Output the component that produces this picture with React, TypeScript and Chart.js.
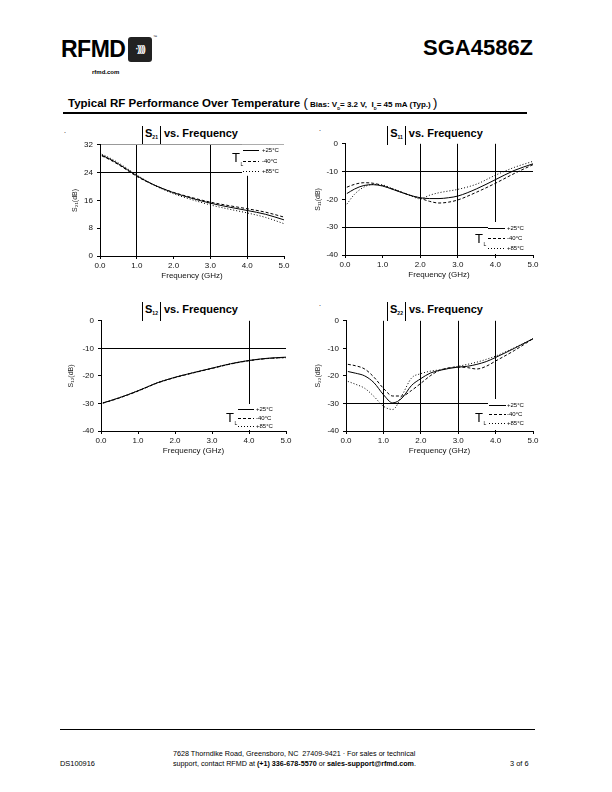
import React, { useEffect, useRef } from 'react';
import { Chart, registerables } from 'chart.js';

Chart.register(...registerables);

// ---------- data ----------
const LEGEND_LABELS = ['+25°C', '-40°C', '+85°C'];

const S21_FREQ = [0.05, 0.25, 0.5, 0.75, 1.0, 1.25, 1.5, 1.75, 2.0, 2.5, 3.0, 3.5, 4.0, 4.5, 5.0];
const S21_P25 = [29.0, 28.0, 26.5, 24.8, 23.1, 21.6, 20.3, 19.2, 18.2, 16.6, 15.2, 14.1, 13.1, 12.0, 10.4];
const S21_M40 = [28.8, 27.8, 26.3, 24.6, 22.9, 21.5, 20.3, 19.2, 18.3, 16.8, 15.5, 14.5, 13.6, 12.6, 11.2];
const S21_P85 = [29.3, 28.3, 26.8, 25.1, 23.3, 21.7, 20.2, 19.0, 17.9, 16.2, 14.7, 13.5, 12.4, 11.1, 9.3];

const S11_FREQ = [0.05, 0.25, 0.5, 0.75, 1.0, 1.25, 1.5, 1.75, 2.0, 2.25, 2.5, 2.75, 3.0, 3.5, 4.0, 4.5, 5.0];
const S11_P25 = [-17.9, -16.3, -15.0, -14.7, -15.2, -16.3, -17.5, -18.6, -19.4, -19.7, -19.7, -19.4, -18.8, -16.2, -12.9, -9.6, -7.2];
const S11_M40 = [-15.6, -14.6, -14.0, -14.2, -15.0, -16.2, -17.4, -18.6, -19.6, -20.7, -21.3, -21.0, -20.2, -17.4, -14.2, -10.7, -7.5];
const S11_P85 = [-21.7, -18.2, -15.6, -14.6, -14.8, -16.0, -17.3, -18.7, -19.8, -18.5, -17.6, -17.0, -16.4, -14.5, -11.3, -8.5, -6.3];

const S12_FREQ = [0.05, 0.25, 0.5, 0.75, 1.0, 1.25, 1.5, 1.75, 2.0, 2.5, 3.0, 3.5, 4.0, 4.5, 5.0];
const S12_P25 = [-29.8, -29.0, -27.9, -26.7, -25.4, -24.0, -22.6, -21.5, -20.5, -18.8, -17.2, -15.6, -14.4, -13.6, -13.2];
const S12_M40 = [-29.9, -29.1, -28.0, -26.8, -25.5, -24.1, -22.7, -21.6, -20.6, -18.9, -17.3, -15.7, -14.5, -13.7, -13.3];
const S12_P85 = [-29.8, -29.0, -27.9, -26.7, -25.4, -24.0, -22.6, -21.5, -20.5, -18.8, -17.2, -15.6, -14.4, -13.7, -13.4];

const S22_FREQ = [0.05, 0.25, 0.5, 0.75, 1.0, 1.25, 1.5, 1.75, 2.0, 2.25, 2.5, 3.0, 3.25, 3.5, 3.75, 4.0, 4.5, 5.0];
const S22_P25 = [-18.4, -19.0, -20.0, -22.5, -26.8, -29.8, -28.0, -23.5, -21.0, -19.0, -18.0, -16.8, -16.5, -15.8, -14.8, -13.3, -10.0, -6.5];
const S22_M40 = [-15.8, -16.3, -17.5, -20.5, -24.5, -27.3, -27.3, -25.3, -22.7, -20.0, -18.0, -16.8, -17.0, -17.5, -16.5, -14.6, -10.8, -6.5];
const S22_P85 = [-22.0, -23.0, -24.5, -27.5, -31.0, -32.2, -27.0, -20.8, -19.2, -18.3, -17.8, -16.5, -15.8, -15.0, -14.0, -12.8, -9.8, -6.5];

const X_TICKS = ['0.0', '1.0', '2.0', '3.0', '4.0', '5.0'];
const S21_Y_TICKS = [0, 8, 16, 24, 32];
const DB_Y_TICKS = [-40, -30, -20, -10, 0];

const FONT = '"Liberation Sans", Arial, Helvetica, sans-serif';

type LegendSpec = {
  anchor: 'top' | 'bottom';
  boxX: number; boxH: number; rows: number[];
  s0: number; s1: number; lx: number; tx: number; ty: number;
};

type Spec = {
  l: number; r: number; t: number; b: number;
  yMin: number; yMax: number; yStep: number; yTicks: number[];
  grid: number[]; gridX: number[]; grayY?: number[];
  freq: number[]; p25: number[]; m40: number[]; p85: number[];
  yTitle: string; yTitleX: number;
  legend: LegendSpec;
};

const YW = 38, PT = 8, PR = 14, XH = 26;

function ChartBox({ spec }: { spec: Spec }) {
  const ref = useRef<HTMLCanvasElement | null>(null);
  const cl = spec.l - YW;
  const ct = spec.t - PT;
  const cw = YW + (spec.r - spec.l) + PR;
  const ch = PT + (spec.b - spec.t) + XH;

  useEffect(() => {
    if (!ref.current) return;
    const lg = spec.legend;
    const legendPlugin = {
      id: 'tlegend',
      afterDatasetsDraw(chart: any) {
        const { ctx, chartArea: a } = chart;
        const R = a.right;
        const base = lg.anchor === 'top' ? a.top : a.bottom;
        const sgn = lg.anchor === 'top' ? 1 : -1;
        ctx.save();
        ctx.fillStyle = '#fff';
        if (lg.anchor === 'top') ctx.fillRect(R - lg.boxX, a.top, lg.boxX + 2, lg.boxH);
        else ctx.fillRect(R - lg.boxX, a.bottom - lg.boxH, lg.boxX + 2, lg.boxH - 1);
        const dashes = [[], [3, 2], [1, 2]];
        ctx.strokeStyle = '#000';
        ctx.lineWidth = 1;
        lg.rows.forEach((ro, i) => {
          const y = Math.round(base + sgn * ro) + 0.5;
          ctx.setLineDash(dashes[i]);
          ctx.beginPath();
          ctx.moveTo(R - lg.s0, y);
          ctx.lineTo(R - lg.s1, y);
          ctx.stroke();
          ctx.setLineDash([]);
          ctx.fillStyle = '#000';
          ctx.font = '6px ' + FONT;
          ctx.textBaseline = 'middle';
          ctx.textAlign = 'left';
          ctx.fillText(LEGEND_LABELS[i], R - lg.lx, y);
        });
        const ty = base + sgn * lg.ty;
        ctx.font = '13px ' + FONT;
        ctx.textBaseline = 'middle';
        ctx.fillText('T', R - lg.tx, ty);
        ctx.font = '5px ' + FONT;
        ctx.fillText('L', R - lg.tx + 8.5, ty + 6);
        ctx.restore();
      },
    };

    const mk = (data: number[], dash: number[], label: string) => ({
      label,
      data: spec.freq.map((f, i) => ({ x: f, y: data[i] })),
      borderColor: '#000',
      borderWidth: 1,
      borderDash: dash,
      pointRadius: 0,
      fill: false,
      cubicInterpolationMode: 'monotone' as const,
    });

    const chart = new Chart(ref.current, {
      type: 'line',
      data: {
        datasets: [
          mk(spec.p25, [], LEGEND_LABELS[0]),
          mk(spec.m40, [3, 2], LEGEND_LABELS[1]),
          mk(spec.p85, [1, 2], LEGEND_LABELS[2]),
        ],
      },
      options: {
        animation: false,
        responsive: false,
        devicePixelRatio: 1,
        layout: { padding: { top: PT, right: PR, left: 0, bottom: 0 } },
        plugins: { legend: { display: false }, title: { display: false }, tooltip: { enabled: false } },
        scales: {
          x: {
            type: 'linear',
            min: 0,
            max: 5,
            afterFit: (s: any) => { s.height = XH; },
            afterBuildTicks: (s: any) => { s.ticks = X_TICKS.map((t) => ({ value: parseFloat(t) })); },
            ticks: {
              callback: (v: any) => X_TICKS.find((t) => parseFloat(t) === v) ?? '',
              font: { family: FONT, size: 8 },
              color: '#111',
              padding: 2,
              maxRotation: 0,
            },
            grid: {
              color: (c: any) => (spec.gridX.includes(c.tick?.value) ? '#000' : 'rgba(0,0,0,0)'),
              tickColor: '#000',
              tickLength: 3,
              lineWidth: 1,
            },
            border: { display: true, color: '#000', width: 1 },
            title: {
              display: true,
              text: 'Frequency (GHz)',
              font: { family: FONT, size: 8 },
              color: '#111',
              padding: { top: 0, bottom: 1 },
            },
          },
          y: {
            type: 'linear',
            min: spec.yMin,
            max: spec.yMax,
            afterFit: (s: any) => { s.width = YW; },
            afterBuildTicks: (s: any) => { s.ticks = spec.yTicks.map((v) => ({ value: v })); },
            ticks: {
              font: { family: FONT, size: 8 },
              color: '#111',
              padding: 4,
            },
            grid: {
              color: (c: any) =>
                spec.grid.includes(c.tick?.value)
                  ? '#000'
                  : spec.grayY && spec.grayY.includes(c.tick?.value)
                  ? '#999'
                  : 'rgba(0,0,0,0)',
              tickColor: '#000',
              tickLength: 3,
              lineWidth: 1,
            },
            border: { display: true, color: '#000', width: 1 },
            title: {
              display: true,
              text: spec.yTitle,
              font: { family: FONT, size: 7 },
              color: '#222',
              padding: { top: Math.max(0, spec.yTitleX - cl - 4), bottom: 0 },
            },
          },
        },
      },
      plugins: [legendPlugin],
    } as any);
    return () => chart.destroy();
  }, []);

  return (
    <canvas
      ref={ref}
      width={cw}
      height={ch}
      style={{ position: 'absolute', left: cl, top: ct, width: cw, height: ch }}
    />
  );
}

function ChartTitle({ sub, cx, top }: { sub: string; cx: number; top: number }) {
  return (
    <div
      style={{
        position: 'absolute', left: cx - 80, top, width: 160, textAlign: 'center',
        fontFamily: FONT, fontWeight: 'bold', fontSize: 11, lineHeight: '14px', color: '#000',
      }}
    >
      <span style={{ display: 'inline-block', borderLeft: '1px solid #000', borderRight: '1px solid #000', padding: '0 2px', lineHeight: '15px' }}>
        S<sub style={{ fontSize: 5, verticalAlign: '-2px' }}>{sub}</sub>
      </span>
      {' vs. Frequency'}
    </div>
  );
}

const SPECS: Spec[] = [
  {
    l: 100, r: 284, t: 144, b: 256, yMin: 0, yMax: 32, yStep: 8, yTicks: S21_Y_TICKS,
    grid: [24], gridX: [1, 3, 4], grayY: [32],
    freq: S21_FREQ, p25: S21_P25, m40: S21_M40, p85: S21_P85,
    yTitle: 'S₂₁(dB)', yTitleX: 75,
    legend: { anchor: 'top', boxX: 42, boxH: 31, rows: [5, 16, 26], s0: 41, s1: 25, lx: 22, tx: 52, ty: 14 },
  },
  {
    l: 345, r: 533, t: 143, b: 255, yMin: -40, yMax: 0, yStep: 10, yTicks: DB_Y_TICKS,
    grid: [-10, -30], gridX: [2, 3, 4],
    freq: S11_FREQ, p25: S11_P25, m40: S11_M40, p85: S11_P85,
    yTitle: 'S₁₁(dB)', yTitleX: 318,
    legend: { anchor: 'bottom', boxX: 45, boxH: 33, rows: [27, 17, 7], s0: 45, s1: 28, lx: 26, tx: 58, ty: 16 },
  },
  {
    l: 101, r: 286, t: 320, b: 431, yMin: -40, yMax: 0, yStep: 10, yTicks: DB_Y_TICKS,
    grid: [-10], gridX: [4],
    freq: S12_FREQ, p25: S12_P25, m40: S12_M40, p85: S12_P85,
    yTitle: 'S₁₂(dB)', yTitleX: 71,
    legend: { anchor: 'bottom', boxX: 48, boxH: 27, rows: [22, 13, 5], s0: 48, s1: 32, lx: 30, tx: 60, ty: 13 },
  },
  {
    l: 346, r: 533, t: 320, b: 431, yMin: -40, yMax: 0, yStep: 10, yTicks: DB_Y_TICKS,
    grid: [-30], gridX: [1, 2, 3, 4],
    freq: S22_FREQ, p25: S22_P25, m40: S22_M40, p85: S22_P85,
    yTitle: 'S₂₂(dB)', yTitleX: 318,
    legend: { anchor: 'bottom', boxX: 45, boxH: 32, rows: [26, 17, 8], s0: 44, s1: 27, lx: 26, tx: 58, ty: 13 },
  },
];

const abs = (left: number, top: number, extra: React.CSSProperties = {}): React.CSSProperties => ({
  position: 'absolute', left, top, fontFamily: FONT, color: '#000', whiteSpace: 'nowrap', ...extra,
});

export default function App() {
  return (
    <div style={{ position: 'absolute', left: 0, top: 0, width: 612, height: 792, background: '#fff', overflow: 'hidden' }}>
      {/* header */}
      <div style={abs(61, 36, { fontSize: 23, fontWeight: 'bold', letterSpacing: -0.5, lineHeight: '26px' })}>RFMD</div>
      <div
        style={abs(128, 37, {
          width: 24, height: 25, background: '#222', borderRadius: 3, color: '#fff', fontSize: 9,
          fontWeight: 'bold', textAlign: 'center', lineHeight: '25px', letterSpacing: -1.2,
        })}
      >
        ·))))
      </div>
      <div style={abs(153, 34, { fontSize: 4 })}>™</div>
      <div style={abs(92, 69, { fontSize: 6, fontWeight: 'bold' })}>rfmd.com</div>
      <div style={abs(423, 35, { fontSize: 22, fontWeight: 'bold', lineHeight: '26px' })}>SGA4586Z</div>

      <div style={abs(68, 95, { fontSize: 11.5, fontWeight: 'bold', lineHeight: '16px' })}>
        Typical RF Performance Over Temperature{'  '}
        <span style={{ fontSize: 13, fontWeight: 'normal' }}>(</span>
        <span style={{ fontSize: 8 }}>
          {' '}Bias: V<sub style={{ fontSize: 4 }}>D</sub>= 3.2 V,&nbsp; I<sub style={{ fontSize: 4 }}>D</sub>= 45 mA (Typ.){' '}
        </span>
        <span style={{ fontSize: 13, fontWeight: 'normal' }}>)</span>
      </div>
      <div style={abs(63, 112, { width: 464, height: 2, background: '#000' })} />

      {/* stray dots from the original scan */}
      <div style={abs(64, 127, { fontSize: 7 })}>.</div>
      <div style={abs(319, 125, { fontSize: 7 })}>.</div>
      <div style={abs(319, 300, { fontSize: 7 })}>.</div>

      {/* charts */}
      <ChartTitle sub="21" cx={190} top={126} />
      <ChartTitle sub="11" cx={435} top={126} />
      <ChartTitle sub="12" cx={190} top={302} />
      <ChartTitle sub="22" cx={435} top={302} />
      {SPECS.map((s, i) => (
        <ChartBox key={i} spec={s} />
      ))}

      {/* footer */}
      <div style={abs(60, 729, { width: 475, height: 1, background: '#000' })} />
      <div style={abs(60, 759, { fontSize: 7.4 })}>DS100916</div>
      <div style={abs(173, 749, { fontSize: 7.2, lineHeight: '10px' })}>
        7628 Thorndike Road, Greensboro, NC&nbsp; 27409-9421 · For sales or technical
        <br />
        support, contact RFMD at <b>(+1) 336-678-5570</b> or <b>sales-support@rfmd.com</b>.
      </div>
      <div style={abs(510, 759, { fontSize: 7.4 })}>3 of 6</div>
    </div>
  );
}
